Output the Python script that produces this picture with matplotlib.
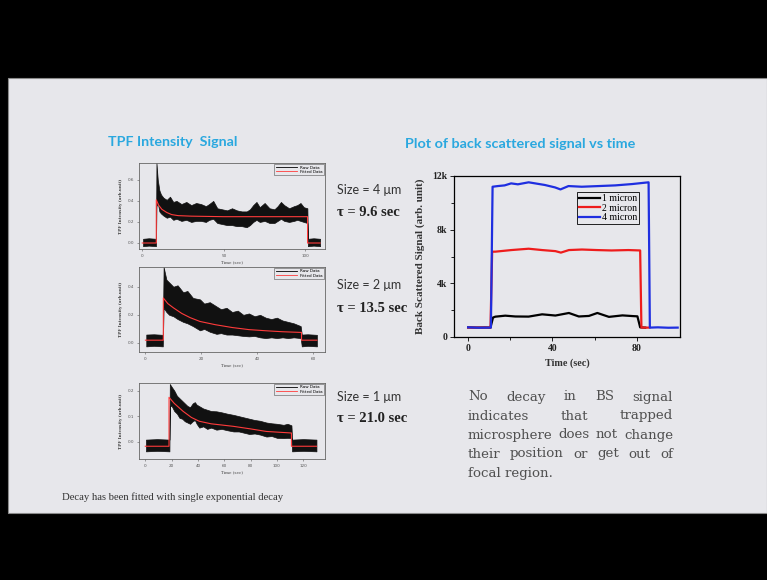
import matplotlib
matplotlib.use("Agg")
import matplotlib.pyplot as plt
from matplotlib.patches import Rectangle
from matplotlib.lines import Line2D

W, H = 767, 580
SLIDE = "#e7e7eb"
TITLE_BLUE = "#2aa8df"

# ---- TPF panel 1 (size 4 um) : raw data envelope + fitted curve ----
tpf1_t = [0.5, 4, 8.4, 8.7, 9.5, 10.5, 11.5, 13, 15, 17, 19, 21, 24, 27, 30, 33, 36, 39, 41,
          43.5, 46, 49, 52, 55, 58, 61, 64, 66, 68, 70, 72, 75, 78, 81, 83, 85, 87, 90, 93,
          95, 97, 99, 101.2, 101.5, 105, 109]
tpf1_lo = [-0.03, -0.025, -0.03, 0.35, 0.38, 0.30, 0.28, 0.26, 0.24, 0.25, 0.22, 0.23, 0.21,
           0.22, 0.20, 0.21, 0.21, 0.20, 0.22, 0.23, 0.19, 0.18, 0.17, 0.17, 0.16, 0.16, 0.15,
           0.17, 0.20, 0.22, 0.20, 0.21, 0.19, 0.19, 0.21, 0.23, 0.21, 0.20, 0.21, 0.22, 0.21,
           0.20, 0.19, -0.03, -0.025, -0.03]
tpf1_hi = [0.04, 0.045, 0.04, 0.76, 0.60, 0.50, 0.46, 0.43, 0.41, 0.44, 0.39, 0.40, 0.37,
           0.39, 0.36, 0.38, 0.37, 0.35, 0.37, 0.40, 0.33, 0.32, 0.31, 0.33, 0.31, 0.30, 0.30,
           0.32, 0.36, 0.39, 0.34, 0.38, 0.33, 0.32, 0.35, 0.39, 0.36, 0.33, 0.35, 0.36, 0.38,
           0.34, 0.33, 0.04, 0.045, 0.04]
fit1_t = [0, 8.6, 8.6, 10, 12, 15, 18, 22, 30, 50, 80, 101.3, 101.3, 109]
fit1_v = [0.0, 0.0, 0.41, 0.36, 0.32, 0.29, 0.27, 0.26, 0.255, 0.25, 0.25, 0.25, 0.0, 0.0]

# ---- TPF panel 2 (size 2 um) ----
tpf2_t = [0.3, 3, 6.2, 6.5, 7.5, 8.5, 10, 11.5, 13.5, 15, 17, 19.5, 21, 23, 25.4, 27, 29, 31,
          33, 35, 37, 39, 41, 43, 45, 47, 49, 51, 53, 55.5, 55.9, 58, 61.3]
tpf2_lo = [-0.024, -0.02, -0.024, 0.25, 0.22, 0.20, 0.19, 0.17, 0.15, 0.14, 0.12, 0.09, 0.10,
           0.08, 0.065, 0.07, 0.06, 0.06, 0.055, 0.05, 0.047, 0.05, 0.04, 0.035, 0.04, 0.035,
           0.04, 0.035, 0.04, 0.035, -0.024, -0.02, -0.024]
tpf2_hi = [0.06, 0.062, 0.058, 0.54, 0.45, 0.43, 0.40, 0.41, 0.36, 0.37, 0.32, 0.31, 0.28,
           0.29, 0.26, 0.24, 0.25, 0.22, 0.23, 0.20, 0.21, 0.19, 0.20, 0.18, 0.17, 0.18, 0.16,
           0.15, 0.14, 0.12, 0.06, 0.062, 0.058]
fit2_t = [0, 6.4, 6.4, 8, 10, 13, 16, 19.5, 25, 31, 37, 43, 49, 55.8, 55.8, 61.3]
fit2_v = [0.02, 0.02, 0.32, 0.28, 0.25, 0.21, 0.18, 0.153, 0.13, 0.11, 0.095, 0.087, 0.08,
          0.075, 0.02, 0.02]

# ---- TPF panel 3 (size 1 um) ----
tpf3_t = [0.5, 9, 18.3, 18.6, 20, 22, 24, 26, 28, 30, 32, 34, 36, 37.6, 39, 41, 44, 47, 50,
          54, 58, 62, 67, 71, 75, 79, 83, 87, 92, 96, 100, 105, 108, 111, 111.5, 120, 130]
tpf3_lo = [-0.038, -0.036, -0.038, 0.14, 0.14, 0.12, 0.11, 0.093, 0.09, 0.08, 0.075, 0.07,
           0.08, 0.085, 0.07, 0.055, 0.06, 0.05, 0.055, 0.047, 0.05, 0.045, 0.04, 0.04, 0.035,
           0.03, 0.032, 0.028, 0.02, 0.022, 0.015, 0.014, 0.015, 0.014, -0.038, -0.036, -0.038]
tpf3_hi = [0.008, 0.01, 0.008, 0.226, 0.215, 0.20, 0.18, 0.17, 0.16, 0.15, 0.14, 0.135, 0.15,
           0.155, 0.145, 0.139, 0.13, 0.125, 0.12, 0.119, 0.115, 0.11, 0.105, 0.10, 0.095,
           0.09, 0.085, 0.082, 0.075, 0.072, 0.07, 0.066, 0.07, 0.064, 0.008, 0.01, 0.008]
fit3_t = [0, 18, 18, 22, 28.7, 35, 41, 50, 67, 80, 92, 111, 111, 130]
fit3_v = [-0.018, -0.018, 0.174, 0.15, 0.119, 0.095, 0.08, 0.07, 0.06, 0.05, 0.04, 0.034,
          -0.018, -0.018]

# ---- back scattered signal ----
bs1_t = [0, 4, 8, 10.6, 11.8, 12.9, 17.6, 22.4, 28.7, 35.1, 41.4, 47.8, 52.5, 57.3, 61.3,
         66.8, 73.2, 78, 80.3, 81.6, 84]
bs1_v = [720, 700, 710, 700, 1450, 1515, 1590, 1530, 1520, 1690, 1600, 1790, 1530, 1570,
         1790, 1500, 1610, 1560, 1540, 720, 700]
bs2_t = [0, 10.6, 11.4, 12.9, 20.5, 28.7, 35.1, 41.4, 44, 47.8, 54, 61, 68, 76, 81.6, 82.2, 86]
bs2_v = [700, 700, 6360, 6360, 6480, 6580, 6480, 6400, 6290, 6480, 6520, 6480, 6450, 6480,
         6450, 700, 700]
bs4_t = [0, 5, 10.8, 11.6, 14.1, 17.3, 20.4, 23.6, 28.7, 36.4, 41.2, 43.8, 47.6, 53.9, 61.9,
         69.8, 77.8, 85.6, 86.2, 90, 95, 99.4]
bs4_v = [720, 690, 700, 11200, 11250, 11300, 11450, 11380, 11530, 11330, 11150, 11000, 11250,
         11200, 11250, 11300, 11400, 11530, 700, 720, 690, 700]
bs_labels = ["1 micron", "2 micron", "4 micron"]
bs_yticks = [0, 4000, 8000, 12000]
bs_yticklabels = ["0", "4k", "8k", "12k"]

sizes = ["Size = 4 \u03bcm", "Size = 2 \u03bcm", "Size = 1 \u03bcm"]
taus = ["\u03c4 = 9.6 sec", "\u03c4 = 13.5 sec", "\u03c4 = 21.0 sec"]

para = ["No decay in BS signal",
        "indicates that trapped",
        "microsphere does not change",
        "their position or get out of",
        "focal region."]


def box(l, t, r, b):
    return [l / W, 1 - b / H, (r - l) / W, (b - t) / H]


fig = plt.figure(figsize=(W / 100, H / 100), dpi=100, facecolor="black")
fig.patches.append(Rectangle((8 / W, 1 - 513 / H), (W - 8) / W, (513 - 78) / H,
                             transform=fig.transFigure, facecolor=SLIDE,
                             edgecolor="#8a8a8a", lw=0.8, zorder=-10))

fig.text(108 / W, 1 - 142 / H, "TPF Intensity  Signal", color=TITLE_BLUE, fontsize=10.3,
         fontweight="bold", family="Lato", va="center")
fig.text(405 / W, 1 - 144 / H, "Plot of back scattered signal vs time", color=TITLE_BLUE,
         fontsize=10.4, fontweight="bold", family="Lato", va="center")


def tpf_panel(rect, t, lo, hi, ft, fv, xlim, ylim, xticks, yticks):
    ax = fig.add_axes(box(*rect))
    ax.set_facecolor(SLIDE)
    ax.fill_between(t, lo, hi, color="#111111", lw=0.5)
    ax.plot(ft, fv, color="#ff3b3b", lw=0.8)
    ax.set_xlim(*xlim)
    ax.set_ylim(*ylim)
    ax.set_xticks(xticks)
    ax.set_yticks(yticks)
    ax.set_xticklabels([str(v) for v in xticks])
    ax.set_yticklabels(["%.1f" % v for v in yticks])
    ax.tick_params(labelsize=3, length=1.5, width=0.4, colors="#555555", pad=2)
    for s in ax.spines.values():
        s.set_linewidth(0.6)
        s.set_color("#666666")
    ax.set_xlabel("Time (sec)", fontsize=3, labelpad=1.5, color="#444444", family="serif")
    ax.set_ylabel("TPF Intensity (arb.unit)", fontsize=3, labelpad=3, color="#444444",
                  family="serif", fontweight="bold")
    handles = [Line2D([], [], color="black", lw=0.6), Line2D([], [], color="#ff3b3b", lw=0.6)]
    ax.legend(handles, ["Raw Data", "Fitted Data"], loc="upper right", fontsize=3,
              frameon=True, fancybox=False, edgecolor="#555555", framealpha=1,
              facecolor=SLIDE, handlelength=5, borderpad=0.3, labelspacing=0.1,
              borderaxespad=0.3).get_frame().set_linewidth(0.4)
    return ax


tpf_panel((139, 163, 325, 249), tpf1_t, tpf1_lo, tpf1_hi, fit1_t, fit1_v,
          (-2, 112), (-0.057, 0.76), [0, 50, 100], [0.0, 0.2, 0.4, 0.6])
tpf_panel((139, 267, 325, 352), tpf2_t, tpf2_lo, tpf2_hi, fit2_t, fit2_v,
          (-2.3, 64.2), (-0.064, 0.54), [0, 20, 40, 60], [0.0, 0.2, 0.4])
tpf_panel((139, 383, 325, 459), tpf3_t, tpf3_lo, tpf3_hi, fit3_t, fit3_v,
          (-4.8, 136.5), (-0.068, 0.23), [0, 20, 40, 60, 80, 100, 120], [0.0, 0.1, 0.2])

for i, (yy_s, yy_t) in enumerate([(190, 212), (285, 308), (397, 419)]):
    fig.text(337 / W, 1 - yy_s / H, sizes[i], fontsize=9, family="Lato", color="#333333",
             va="center")
    fig.text(337 / W, 1 - yy_t / H, taus[i], fontsize=10.5, family="Liberation Serif",
             fontweight="bold", color="#222222", va="center")

fig.text(62 / W, 1 - 497 / H, "Decay has been fitted with single exponential decay",
         fontsize=7.7, family="Liberation Serif", color="#333333", va="center")

# ---- back scattered plot ----
ax = fig.add_axes(box(454, 176, 680, 337))
ax.set_facecolor(SLIDE)
ax.plot(bs1_t, bs1_v, color="black", lw=1.6, label=bs_labels[0])
ax.plot(bs2_t, bs2_v, color="#ee1c1c", lw=1.6, label=bs_labels[1])
ax.plot(bs4_t, bs4_v, color="#1f2fe0", lw=1.6, label=bs_labels[2])
ax.set_xlim(-6.7, 100.5)
ax.set_ylim(0, 12000)
ax.set_xticks([0, 40, 80])
ax.set_xticks([20, 60], minor=True)
ax.set_yticks(bs_yticks)
ax.set_yticks([2000, 6000, 10000], minor=True)
ax.set_yticklabels(bs_yticklabels)
for lab in ax.get_xticklabels() + ax.get_yticklabels():
    lab.set_family("Liberation Serif")
    lab.set_fontweight("bold")
ax.tick_params(labelsize=7, length=3, width=0.7, pad=2, colors="#222222")
ax.tick_params(which="minor", length=2, width=0.6)
for s in ax.spines.values():
    s.set_linewidth(0.9)
ax.set_xlabel("Time (sec)", fontsize=7.3, family="Liberation Serif", fontweight="bold",
              labelpad=4, color="#333333")
ax.set_ylabel("Back Scattered Signal (arb. unit)", fontsize=8, family="Liberation Serif",
              fontweight="bold", labelpad=5, color="#333333")
leg = ax.legend(loc="upper right", bbox_to_anchor=(0.82, 0.9),
                prop={"family": "Liberation Serif", "size": 7}, frameon=True,
                fancybox=False, edgecolor="black", framealpha=1, facecolor=SLIDE,
                handlelength=2.2, borderpad=0.2, labelspacing=0.05, handletextpad=0.2,
                borderaxespad=0)
leg.get_frame().set_linewidth(0.6)

# ---- justified paragraph ----
renderer = fig.canvas.get_renderer()
x0, x1 = 468, 673
line_y = [397, 416, 435, 454, 473]
probe = fig.text(0, 0, para[2], fontsize=10, family="DejaVu Serif")
psize = 10 * (x1 - x0 - 4) / probe.get_window_extent(renderer).width
probe.remove()
pfont = dict(fontsize=psize, family="DejaVu Serif", color="#505050", va="center")
for k, line in enumerate(para):
    words = line.split()
    y = 1 - line_y[k] / H
    if k == len(para) - 1:
        fig.text(x0 / W, y, line, **pfont)
        continue
    arts = [fig.text(0, y, w, **pfont) for w in words]
    widths = [a.get_window_extent(renderer).width for a in arts]
    gap = (x1 - x0 - sum(widths)) / (len(words) - 1)
    x = x0
    for a, wd in zip(arts, widths):
        a.set_x(x / W)
        x += wd + gap

fig.savefig("out.png", dpi=100, facecolor="black")
